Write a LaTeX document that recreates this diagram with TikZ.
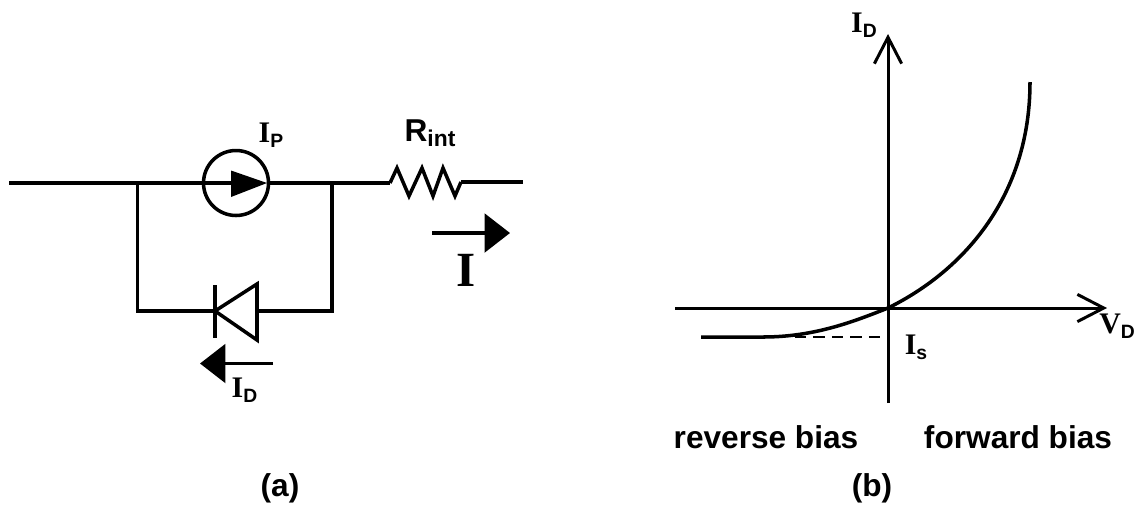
\documentclass[tikz,border=0pt]{standalone}
\usepackage{fontspec}
\setmainfont{Liberation Sans}
\newfontfamily\timesfont{Liberation Serif}
\usetikzlibrary{arrows.meta}
\newcommand{\sublabel}[2]{{\fontsize{17}{17}\selectfont\bfseries\timesfont #1}\raisebox{-3pt}{\fontsize{11}{11}\selectfont\bfseries #2}}
\tikzset{
    wire/.style={line width=2pt},
    axisline/.style={line width=1.7pt, -{Straight Barb[length=15pt, width=15.5pt]}},
    current/.style={line width=2pt, -{Triangle[length=14.5pt, width=22pt]}},
    txt/.style={font=\fontsize{18}{18}\selectfont\bfseries, inner sep=0pt},
}
\begin{document}
\begin{tikzpicture}[x=0.02cm, y=-0.02cm]
    \useasboundingbox (0, 0) rectangle (1135, 505);
    \fill[white] (0, 0) rectangle (1135, 505);

    % (a)
    \coordinate (wl) at (9, 183);
    \coordinate (ja) at (137.5, 183);
    \coordinate (jb) at (332, 183);
    \coordinate (rl) at (390, 183);
    \coordinate (rr) at (461, 182);
    \coordinate (wr) at (523, 182);
    \coordinate (ba) at (137.5, 311);
    \coordinate (bb) at (332, 311);
    \coordinate (da) at (215, 311);
    \coordinate (db) at (257, 311);
    \node[circle, draw, wire, minimum size=1.3cm, inner sep=0pt] (ip) at (236, 183) {};
    \draw[wire] (wl) -- (ip.center);
    \draw[wire] (ip.east) -- (rl);
    \draw[wire] (ja) -- (ba) -- (da);
    \draw[wire] (jb) -- (bb) -- (db);
    \draw[wire, line join=miter] (rl) -- (397, 168) -- (409, 196) -- (422, 168) -- (433, 196) -- (443, 168) -- (455, 196) -- (rr);
    \draw[wire] (rr) -- (wr);
    \fill[black] (267, 183) -- (231, 170.5) -- (231, 197) -- cycle;
    \draw[wire, line join=miter] (da) -- (db |- 0, 284) -- (db |- 0, 340) -- cycle;
    \draw[wire] (da |- 0, 285) -- (da |- 0, 338);

    \coordinate (ia) at (432, 233);
    \coordinate (ib) at (510, 233);
    \draw[current] (ia) -- (ib);
    \coordinate (dia) at (273, 363.5);
    \coordinate (dib) at (200, 363.5);
    \draw[current] (dia) -- (dib);

    \node[txt] (iplabel) at (271, 135.5) {\sublabel{I}{P}};
    \node[txt] (rlabel) at (430, 133) {R\raisebox{-3pt}{\fontsize{13}{13}\selectfont int}};
    \node[font=\fontsize{28}{28}\selectfont\bfseries\timesfont, inner sep=0pt] (ilabel) at (466.5, 270) {I};
    \node[txt] (idlabel) at (244.5, 390.5) {\sublabel{I}{D}};
    \node[txt] (alabel) at (280, 488) {(a)};

    % (b)
    \coordinate (xa) at (675, 308);
    \coordinate (xb) at (1107, 308);
    \coordinate (ya) at (888, 403);
    \coordinate (yb) at (888, 34);
    \coordinate (zero) at (888, 308);
    \coordinate (sat) at (888, 337);
    \draw[axisline] (xa) -- (xb);
    \draw[axisline] (ya) -- (yb);
    \draw[wire] (701, 337) -- (763, 337) .. controls (815, 337) and (855, 321) .. (zero)
        .. controls (965, 270) and (1030, 195) .. (1030, 82);
    \draw[dash pattern=on 6.5pt off 4pt, line width=1.1pt] (795, 337) -- (sat);

    \node[txt] (idaxis) at (864, 25) {\sublabel{I}{D}};
    \node[txt] (vdaxis) at (1117, 326) {\sublabel{V}{D}};
    \node[txt] (islabel) at (916, 347) {\sublabel{I}{s}};
    \node[txt] (revlabel) at (766, 437.5) {reverse bias};
    \node[txt] (forlabel) at (1018, 437.5) {forward bias};
    \node[txt] (blabel) at (872, 488) {(b)};
\end{tikzpicture}
\end{document}
